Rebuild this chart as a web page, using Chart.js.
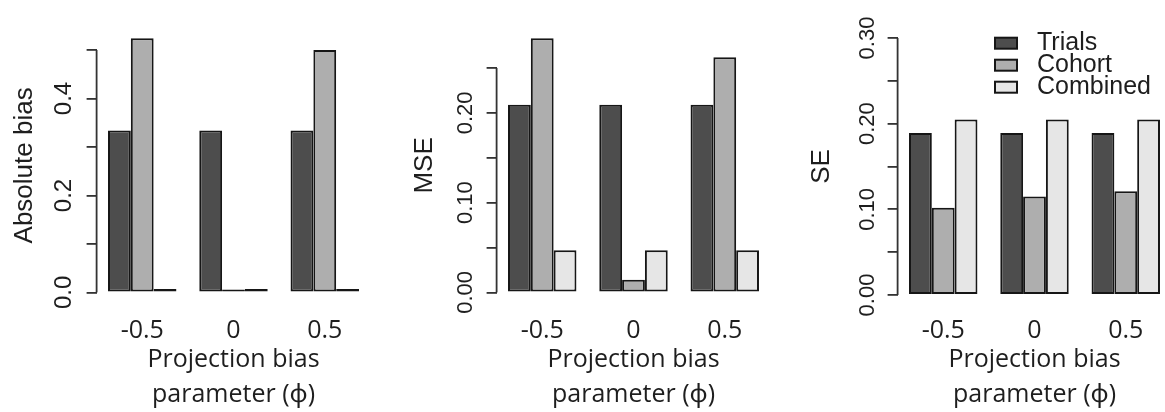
<!DOCTYPE html>
<html>
<head>
<meta charset="utf-8">
<script src="https://cdn.jsdelivr.net/npm/chart.js@4.4.1/dist/chart.umd.min.js"></script>
<style>
  html, body { margin: 0; padding: 0; background: #fff; overflow: hidden; width: 1165px; height: 412px; }
  canvas { position: absolute; top: 0; }
</style>
</head>
<body>
<canvas id="biasChart" width="380" height="412" style="left:0px"></canvas>
<canvas id="mseChart" width="390" height="412" style="left:390px"></canvas>
<canvas id="seChart" width="400" height="412" style="left:780px"></canvas>
<script>
const categories = ['-0.5', '0', '0.5'];
const seriesNames = ['Trials', 'Cohort', 'Combined'];
const seriesColors = ['#4d4d4d', '#aeaeae', '#e6e6e6'];

const biasTrials = [0.334, 0.334, 0.334];
const biasCohort = [0.524, 0.006, 0.500];
const biasCombined = [0.007, 0.007, 0.007];
const biasTicks = ['0.0', '0.2', '0.4'];

const mseTrials = [0.209, 0.209, 0.209];
const mseCohort = [0.283, 0.014, 0.262];
const mseCombined = [0.047, 0.047, 0.047];
const mseTicks = ['0.00', '0.10', '0.20'];

const seTrials = [0.189, 0.189, 0.189];
const seCohort = [0.102, 0.115, 0.121];
const seCombined = [0.205, 0.205, 0.205];
const seTicks = ['0.00', '0.10', '0.20', '0.30'];

const xTitle = ['Projection bias', 'parameter (\u03D5)'];

const textColor = '#1e1e1e';
const axisColor = '#333';
const barBorder = '#161616';
const rFont = "'Liberation Sans', Arial, sans-serif";
const wordFont = "'Open Sans', 'Noto Sans', sans-serif";

// R draws the y axis only from the first to the last tick
const rAxisLine = {
    id: 'rAxisLine',
    afterDraw(chart) {
        const y = chart.scales.y;
        const ticks = y.ticks;
        const ctx = chart.ctx;
        ctx.save();
        ctx.strokeStyle = axisColor;
        ctx.lineWidth = 1.8;
        ctx.beginPath();
        ctx.moveTo(chart.chartArea.left, y.getPixelForValue(ticks[0].value));
        ctx.lineTo(chart.chartArea.left, y.getPixelForValue(ticks[ticks.length - 1].value));
        ctx.stroke();
        ctx.restore();
    }
};

// small legend in the style of R's legend(), drawn inside the plot region
const rLegend = {
    id: 'rLegend',
    afterDraw(chart, args, opts) {
        if (!opts.show) return;
        const ctx = chart.ctx;
        const x = chart.chartArea.left + opts.left;
        ctx.save();
        ctx.font = opts.fontSize + 'px ' + rFont;
        ctx.textBaseline = 'middle';
        ctx.textAlign = 'left';
        chart.data.datasets.forEach((ds, i) => {
            const top = chart.chartArea.top + opts.top + i * opts.row;
            ctx.fillStyle = ds.backgroundColor;
            ctx.fillRect(x, top, opts.boxW, opts.boxH);
            ctx.strokeStyle = barBorder;
            ctx.lineWidth = 2;
            ctx.strokeRect(x, top, opts.boxW, opts.boxH);
            ctx.fillStyle = textColor;
            ctx.fillText(ds.label, x + opts.boxW + opts.gap, top + opts.boxH / 2);
        });
        ctx.restore();
    }
};

function makeChart(id, series, opts) {
    const dec = opts.tickLabels[0].split('.')[1].length;
    return new Chart(document.getElementById(id), {
        type: 'bar',
        data: {
            labels: categories,
            datasets: series.map((values, i) => ({
                label: seriesNames[i],
                data: values,
                backgroundColor: seriesColors[i],
                borderColor: barBorder,
                borderWidth: 2,
                borderSkipped: false,
                categoryPercentage: 0.75,
                barPercentage: 1
            }))
        },
        options: {
            responsive: false,
            animation: false,
            devicePixelRatio: 1,
            layout: { padding: { top: opts.padTop, right: opts.padRight, left: 0, bottom: 0 } },
            plugins: {
                legend: { display: false },
                tooltip: { enabled: false },
                rLegend: opts.legend || { show: false }
            },
            scales: {
                x: {
                    afterFit(scale) { scale.height = 412 - opts.areaBottom; },
                    grid: { display: false },
                    border: { display: false },
                    ticks: {
                        color: textColor,
                        padding: opts.xTickPad,
                        maxRotation: 0,
                        font: { family: wordFont, size: 25 }
                    },
                    title: {
                        display: true,
                        text: xTitle,
                        color: textColor,
                        padding: 0,
                        font: { family: wordFont, size: 25, lineHeight: 1.4 }
                    }
                },
                y: {
                    min: -0.04 * opts.top,
                    max: 1.04 * opts.top,
                    afterFit(scale) { scale.width = opts.yWidth; },
                    border: { display: false },
                    grid: {
                        drawOnChartArea: false,
                        drawTicks: true,
                        tickLength: 10,
                        color: axisColor,
                        lineWidth: 1.8
                    },
                    ticks: {
                        stepSize: opts.step,
                        includeBounds: false,
                        autoSkip: false,
                        minRotation: 90,
                        maxRotation: 90,
                        crossAlign: 'center',
                        padding: opts.yTickPad,
                        color: textColor,
                        font: { family: rFont, size: opts.tickSize },
                        callback: (v) => {
                            const s = v.toFixed(dec);
                            return opts.tickLabels.includes(s) ? s : '';
                        }
                    },
                    title: {
                        display: true,
                        text: opts.title,
                        color: textColor,
                        padding: { top: opts.titlePad, bottom: 0 },
                        font: { family: rFont, size: 26 }
                    }
                }
            }
        },
        plugins: [rAxisLine, rLegend]
    });
}

makeChart('biasChart', [biasTrials, biasCohort, biasCombined], {
    top: Math.max(...biasCohort), step: 0.1, tickLabels: biasTicks, tickSize: 24,
    title: 'Absolute bias', titlePad: 8.9,
    yWidth: 96.6, padRight: 9.6, padTop: 28.2, areaBottom: 302.6,
    yTickPad: 5.9, xTickPad: 5.5
});

makeChart('mseChart', [mseTrials, mseCohort, mseCombined], {
    top: Math.max(...mseCohort), step: 0.05, tickLabels: mseTicks, tickSize: 22,
    title: 'MSE', titlePad: 18.9,
    yWidth: 106.6, padRight: 9.6, padTop: 28.2, areaBottom: 302.6,
    yTickPad: -0.8, xTickPad: 5.5
});

makeChart('seChart', [seTrials, seCohort, seCombined], {
    top: 0.30, step: 0.05, tickLabels: seTicks, tickSize: 22,
    title: 'SE', titlePad: 25.9,
    yWidth: 117.6, padRight: 8.6, padTop: 27.7, areaBottom: 305.3,
    yTickPad: -1.3, xTickPad: 2.8,
    legend: { show: true, left: 97.4, top: 10, row: 22, boxW: 22, boxH: 11, gap: 20, fontSize: 25 }
});
</script>
</body>
</html>
